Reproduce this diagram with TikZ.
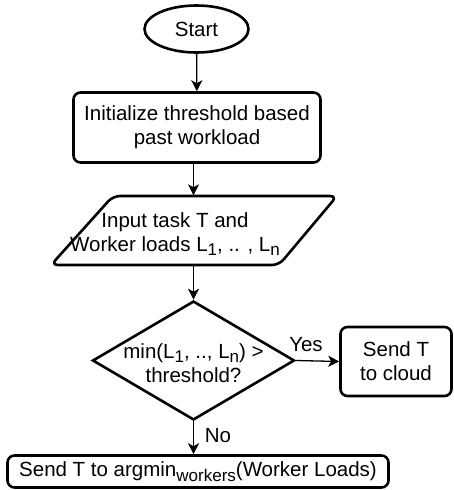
\documentclass[tikz,border=0pt]{standalone}
\usepackage{fontspec}
\setmainfont{Liberation Sans}
\usetikzlibrary{arrows.meta,shapes.geometric}
\newcommand\sbs[1]{\raisebox{-4.5pt}{\fontsize{17}{17}\selectfont #1}}
\begin{document}
\begin{tikzpicture}[x=1pt,y=-1pt,
  font=\fontsize{20.5}{24}\selectfont,
  thick border/.style={draw, line width=2.6pt},
  box/.style={thick border, rounded corners=7pt, align=center, inner sep=0pt},
  arr/.style={line width=1.3pt, -{Stealth[length=11pt,width=11pt,inset=3pt]}},
  lbl/.style={inner sep=0pt}]
\useasboundingbox (0,0) rectangle (454,490);
% nodes
\node[thick border, ellipse, minimum width=104pt, minimum height=47pt, inner sep=0pt] (start) at (196.5,29) {Start};
\node[box, minimum width=247pt, minimum height=70pt] (init) at (197,127.5) {Initialize threshold based\\past workload};
\node[minimum width=226pt, minimum height=70pt, inner sep=0pt] (input) at (195,230.5) {};
\draw[line width=2.6pt, rounded corners=7pt] (225,196) -- (337,196) -- (279,265) -- (51,265) -- (113,196) -- cycle;
\node[align=center, inner sep=0pt] (inputtext) at (175,234) {Input task T and\\Worker loads L\sbs{1}, .. , L\sbs{n}};
\node[thick border, diamond, minimum width=202pt, minimum height=119pt, inner sep=0pt] (dec) at (193.5,360.5) {};
\node[align=center, inner sep=0pt] (dectext) at (193.5,363) {min(L\sbs{1}, .., L\sbs{n}) >\\threshold?};
\node[box, minimum width=111pt, minimum height=69pt] (cloud) at (396,361.5) {Send T\\to cloud};
\node[box, minimum width=381pt, minimum height=32pt, inner xsep=3pt] (final) at (198,471.5) {Send T to argmin\sbs{workers}(Worker Loads)};
% connectors
\draw[arr] (start) -- (init);
\draw[arr] (init.south -| dec.north) -- (input.north -| dec.north);
\draw[arr] (input.south -| dec.north) -- (dec.north);
\draw[arr] (dec.east) -- (cloud.west);
\draw[arr] (dec.south) -- (dec.south |- final.north);
% labels
\node[lbl] (yes) at (306,345) {Yes};
\node[lbl] (no) at (218,436) {No};
\end{tikzpicture}
\end{document}
